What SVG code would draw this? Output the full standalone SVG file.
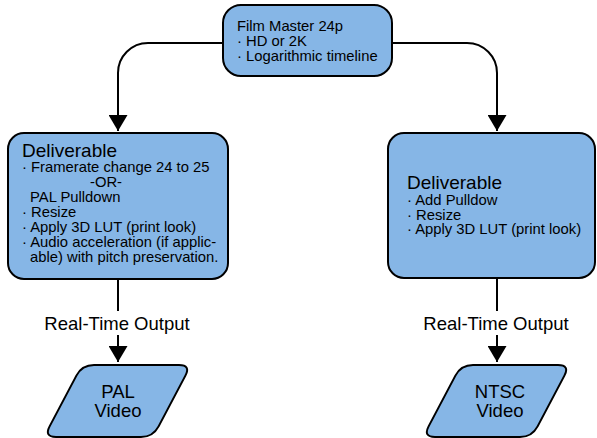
<svg xmlns="http://www.w3.org/2000/svg" width="597" height="438" viewBox="0 0 597 438">
  <style>
    .box { fill: #86B6E6; stroke: #000; stroke-width: 2; }
    .t { font-family: "Liberation Sans", Arial, sans-serif; fill: #000; }
    .s { font-size: 14.8px; }
    .h { font-size: 19px; }
    .big { font-size: 18.5px; }
    .edge { fill: none; stroke: #000; stroke-width: 2; }
  </style>
  <defs>
    <marker id="arrow" viewBox="0 0 16 19" refX="16" refY="9.5" markerWidth="16" markerHeight="19" markerUnits="userSpaceOnUse" orient="auto">
      <path d="M0,0 L16,9.5 L0,19 Z" fill="#000"/>
    </marker>
  </defs>
  <rect width="597" height="438" fill="#fff"/>

  <g id="connectors">
    <path class="edge" d="M223,43 H148 A30,30 0 0 0 118,73 V131" marker-end="url(#arrow)"/>
    <path class="edge" d="M392,43 H467 A30,30 0 0 1 497,73 V131" marker-end="url(#arrow)"/>
    <path class="edge" d="M118,279 V362" marker-end="url(#arrow)"/>
    <path class="edge" d="M497,278 V362" marker-end="url(#arrow)"/>
    <rect x="38" y="311" width="158" height="24" fill="#fff"/>
    <text class="t big" x="117" y="330" text-anchor="middle">Real-Time Output</text>
    <rect x="417" y="311" width="158" height="24" fill="#fff"/>
    <text class="t big" x="496" y="330" text-anchor="middle">Real-Time Output</text>
  </g>

  <g id="film-master">
    <rect class="box" x="223" y="5" width="169" height="71" rx="18" ry="18"/>
    <text class="t s" x="237" y="31">Film Master 24p</text>
    <text class="t s" x="237" y="46">· HD or 2K</text>
    <text class="t s" x="237" y="61">· Logarithmic timeline</text>
  </g>

  <g id="deliverable-pal">
    <rect class="box" x="8" y="133" width="220" height="146" rx="16" ry="16"/>
    <text class="t h" x="22" y="157">Deliverable</text>
    <text class="t s" x="22" y="172">· Framerate change 24 to 25</text>
    <text class="t s" x="90" y="187">-OR-</text>
    <text class="t s" x="30" y="202">PAL Pulldown</text>
    <text class="t s" x="22" y="217">· Resize</text>
    <text class="t s" x="22" y="232">· Apply 3D LUT (print look)</text>
    <text class="t s" x="22" y="247">· Audio acceleration (if applic-</text>
    <text class="t s" x="30" y="262">able) with pitch preservation.</text>
  </g>

  <g id="deliverable-ntsc">
    <rect class="box" x="388" y="133" width="207" height="145" rx="16" ry="16"/>
    <text class="t h" x="407" y="189">Deliverable</text>
    <text class="t s" x="407" y="205">· Add Pulldow</text>
    <text class="t s" x="407" y="219.5">· Resize</text>
    <text class="t s" x="407" y="234">· Apply 3D LUT (print look)</text>
  </g>

  <g id="pal-video">
    <path class="box" d="M94,365 H179 Q191,365 185.4,375.6 L158.6,426.4 Q153,437 141,437 H56 Q44,437 49.6,426.4 L76.4,375.6 Q82,365 94,365 Z"/>
    <text class="t big" x="118" y="398" text-anchor="middle">PAL</text>
    <text class="t big" x="118" y="417" text-anchor="middle">Video</text>
  </g>

  <g id="ntsc-video">
    <path class="box" d="M473,365 H558 Q570,365 564.4,375.6 L537.6,426.4 Q532,437 520,437 H435 Q423,437 428.6,426.4 L455.4,375.6 Q461,365 473,365 Z"/>
    <text class="t big" x="500" y="398" text-anchor="middle">NTSC</text>
    <text class="t big" x="500" y="417" text-anchor="middle">Video</text>
  </g>
</svg>
